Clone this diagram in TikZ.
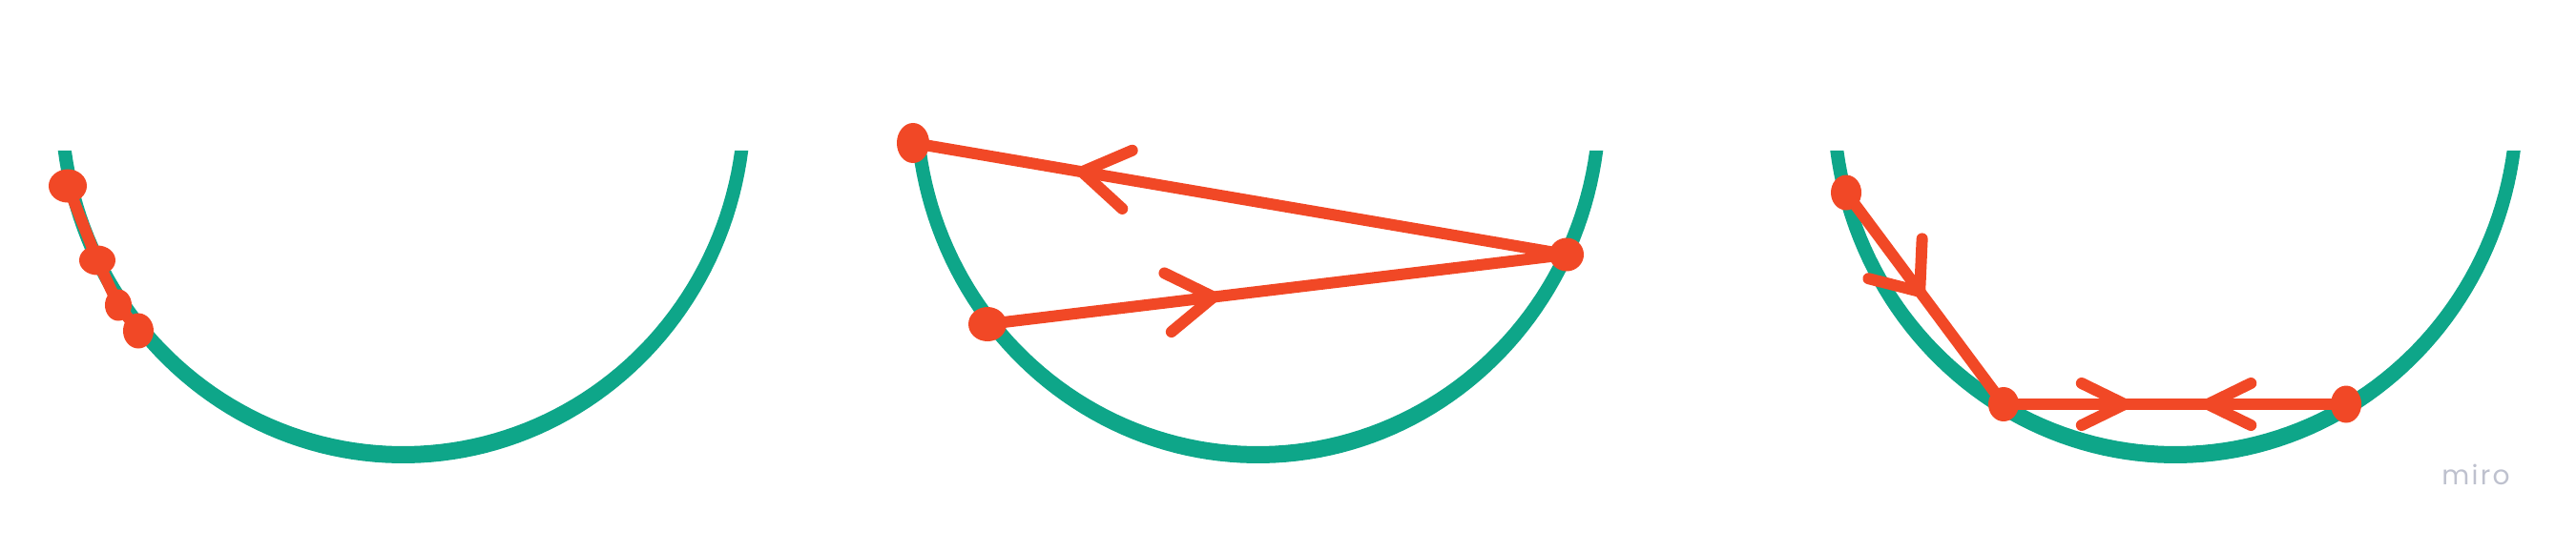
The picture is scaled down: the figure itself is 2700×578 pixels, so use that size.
\documentclass[tikz,border=0pt]{standalone}
\usepackage{fontspec}
\usepackage{tikz}
\usetikzlibrary{positioning}
\usetikzlibrary{decorations.markings}
\usetikzlibrary{shapes.geometric}
\usetikzlibrary{arrows.meta}
\usepackage{xcolor}

\definecolor{bowlgreen}{RGB}{14,166,137}
\definecolor{penred}{RGB}{241,72,38}
\definecolor{logogray}{RGB}{190,193,206}
\newfontfamily\logofont[LetterSpace=8]{Poppins}

\tikzset{
  bowl/.style={fill=bowlgreen, draw=none},
  chord/.style={penred, line width=0.12cm, line cap=round, line join=round},
  blob/.style={ellipse, fill=penred, inner sep=0pt, minimum width=0.32cm, minimum height=0.36cm},
}

\begin{document}
\begin{tikzpicture}[x=0.01cm, y=-0.01cm, >={Straight Barb[length=4.8mm,width=6.2mm,round]}]
\useasboundingbox (0,0) rectangle (2700,578);

%the three bowls, a bit thicker at the bottom
\foreach \cx in {422.5,1318.5,2280}
  \fill[bowl] plot[domain=7.6:172.4, samples=90] ({\cx+365*cos(\x)},{108+378*sin(\x)})
     -- plot[domain=172.02:7.98, samples=90] ({\cx+351*cos(\x)},{108+360*sin(\x)}) -- cycle;

\begin{scope} 
\node[blob, minimum width=0.4cm, minimum height=0.35cm] (b1) at (71,195) {};
\node[blob, minimum width=0.38cm, minimum height=0.31cm] (b2) at (102,273) {};
\node[blob, minimum width=0.28cm, minimum height=0.33cm] (b3) at (124,320) {};
\node[blob, minimum width=0.32cm, minimum height=0.37cm] (b4) at (145,347) {};

\draw[chord] (b1.center) -- (b2.center) -- (b3.center) -- (b4.center);
\end{scope}

\begin{scope}
\node[blob, minimum width=0.34cm, minimum height=0.42cm] (p1) at (957,150) {};
\node[blob, minimum width=0.36cm, minimum height=0.35cm] (p2) at (1642,267) {};
\node[blob, minimum width=0.40cm, minimum height=0.36cm] (p3) at (1035,340) {};

\draw[chord, postaction={decorate}, decoration={markings,
    mark=at position 0.25 with {\arrowreversed{>}}}] (p1.center) -- (p2.center);
\draw[chord, postaction={decorate}, decoration={markings,
    mark=at position 0.4 with {\arrow{>}}}] (p3.center) -- (p2.center);
\end{scope}

\begin{scope}
\node[blob, minimum width=0.32cm, minimum height=0.37cm] (q1) at (1935,202) {};
\node[blob, minimum width=0.32cm, minimum height=0.36cm] (q2) at (2100,424) {};
\node[blob, minimum width=0.32cm, minimum height=0.39cm] (q3) at (2459,424) {};

\draw[chord, postaction={decorate}, decoration={markings,
    mark=at position 0.49 with {\arrow{Straight Barb[length=4.3mm,width=7mm,round]}}}] (q1.center) -- (q2.center);
\draw[chord, postaction={decorate}, decoration={markings,
    mark=at position 0.37 with {\arrow{Straight Barb[length=4.5mm,width=4.4mm,round]}},
    mark=at position 0.58 with {\arrowreversed{Straight Barb[length=4.5mm,width=4.4mm,round]}}}] (q2.center) -- (q3.center);
\end{scope}

\node[text=logogray, font=\logofont\fontsize{8}{9}\selectfont, anchor=base] (logo) at (2595,508) {miro};

\end{tikzpicture}
\end{document}
